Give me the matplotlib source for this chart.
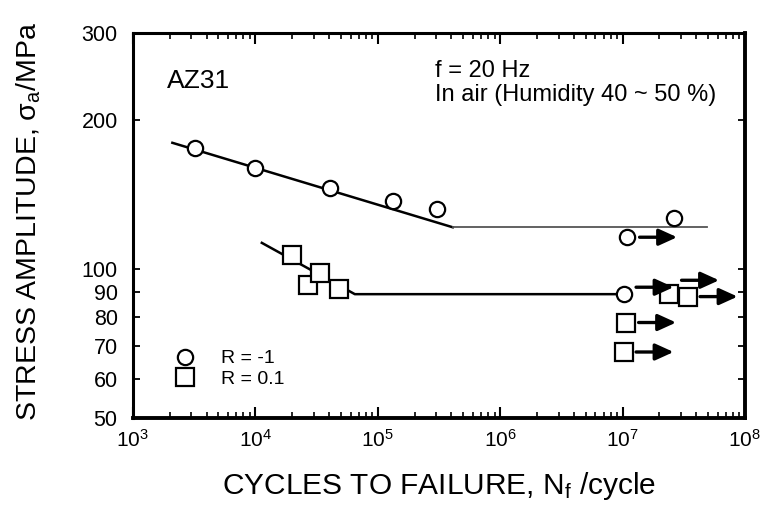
import matplotlib
matplotlib.use("Agg")
import matplotlib.pyplot as plt
from matplotlib.lines import Line2D
from matplotlib.ticker import LogLocator, NullFormatter, NullLocator
from matplotlib.transforms import offset_copy

plt.rcParams['font.family'] = ['Liberation Sans', 'DejaVu Sans']
plt.rcParams['mathtext.fontset'] = 'custom'
plt.rcParams['mathtext.rm'] = 'Liberation Sans'
plt.rcParams['mathtext.it'] = 'Liberation Sans:italic'

# R = -1 (fully reversed) results
circ_n = [3.2e3, 1.0e4, 4.1e4, 1.33e5, 3.05e5, 2.63e7]
circ_s = [176, 160, 146, 137, 132, 127]
circ_run_n = [1.09e7, 1.02e7]          # run-outs (no failure)
circ_run_s = [116, 89]

# R = 0.1 results
sq_n = [2.0e4, 2.7e4, 3.4e4, 4.8e4]
sq_s = [107, 93, 98, 91]
sq_run_n = [2.4e7, 3.4e7, 1.07e7, 1.02e7]
sq_run_s = [89, 88, 78, 68]

# S-N fitted curves (knee + fatigue limit)
fit1_n = [2.1e3, 4.1e5, 4.9e7]
fit1_s = [180, 121.5, 121.5]
fit2_n = [1.13e4, 6.5e4, 1.02e7]
fit2_s = [113, 89, 89]

yticks = [50, 60, 70, 80, 90, 100, 200, 300]

fig = plt.figure(figsize=(7.64, 5.08), dpi=100)
ax = fig.add_axes([0.174, 0.177, 0.801, 0.758])
ax.set_xscale('log')
ax.set_yscale('log')
ax.set_xlim(1e3, 1e8)
ax.set_ylim(50, 300)

# fitted lines
ax.plot(fit1_n[:2], fit1_s[:2], color='black', lw=1.8, zorder=2)
ax.plot(fit1_n[1:], fit1_s[1:], color='#555555', lw=1.3, zorder=2)
ax.plot(fit2_n, fit2_s, color='black', lw=1.8, zorder=2)

mk = dict(ls='none', mfc='white', mec='black', mew=1.6, zorder=3)
ax.plot(circ_n + circ_run_n, circ_s + circ_run_s, marker='o', ms=11, **mk)
ax.plot(sq_n + sq_run_n, sq_s + sq_run_s, marker='s', ms=12.5, **mk)

# run-out arrows (vertical nudges in points so they don't overlap)
run_n = circ_run_n + sq_run_n
run_s = circ_run_s + sq_run_s
arrow_dy = [0, 5, 10, 0, 0, 0]
for n, s, dy in zip(run_n, run_s, arrow_dy):
    tr = offset_copy(ax.transData, fig=fig, x=36, y=dy, units='points')
    ax.annotate('', xy=(n, s), xycoords=tr, xytext=(-27, 0),
                textcoords='offset points',
                arrowprops=dict(arrowstyle='-|>,head_length=0.55,head_width=0.25',
                                mutation_scale=20, lw=2.4, color='black',
                                shrinkA=0, shrinkB=0),
                zorder=4)

# axes cosmetics
for side in ['left', 'right', 'bottom', 'top']:
    ax.spines[side].set_linewidth(2.2)
ax.spines['bottom'].set_linewidth(2.8)
ax.spines['right'].set_linewidth(2.8)

ax.xaxis.set_major_locator(LogLocator(base=10, numticks=10))
ax.xaxis.set_minor_locator(LogLocator(base=10, subs=range(2, 10), numticks=10))
ax.xaxis.set_minor_formatter(NullFormatter())
ax.set_yticks(yticks)
ax.set_yticklabels([str(v) for v in yticks], fontsize=15.5)
ax.yaxis.set_minor_locator(NullLocator())

ax.tick_params(axis='x', which='major', direction='in', length=8, width=1.5,
               top=True, labelsize=15, pad=8)
ax.tick_params(axis='x', which='minor', direction='in', length=4, width=1.2,
               top=True)
ax.tick_params(axis='y', which='major', direction='in', length=5, width=1.3,
               right=True, pad=11)

ax.set_xlabel('CYCLES TO FAILURE, N$_\\mathrm{f}$ /cycle', fontsize=21.5)
ax.set_ylabel('STRESS AMPLITUDE, σ$_\\mathrm{a}$/MPa', fontsize=20.5)
ax.xaxis.set_label_coords(0.5, -0.135)
ax.yaxis.set_label_coords(-0.147, 0.51)

ax.text(0.056, 0.875, 'AZ31', transform=ax.transAxes, fontsize=19,
        va='center', ha='left')
ax.text(0.493, 0.901, 'f = 20 Hz', transform=ax.transAxes, fontsize=17,
        va='center', ha='left')
ax.text(0.493, 0.839, 'In air (Humidity 40 ~ 50 %)', transform=ax.transAxes,
        fontsize=17, va='center', ha='left')

handles = [
    Line2D([], [], marker='o', ms=11, ls='none', mfc='white', mec='black', mew=1.6),
    Line2D([], [], marker='s', ms=12.5, ls='none', mfc='white', mec='black', mew=1.6),
]
ax.legend(handles, ['R = -1', 'R = 0.1'], loc='lower left',
          bbox_to_anchor=(0.043, 0.043), frameon=False, fontsize=14,
          handletextpad=1.3, labelspacing=0.15, handlelength=1.2,
          borderpad=0.2)

fig.savefig('out.png', dpi=100)
